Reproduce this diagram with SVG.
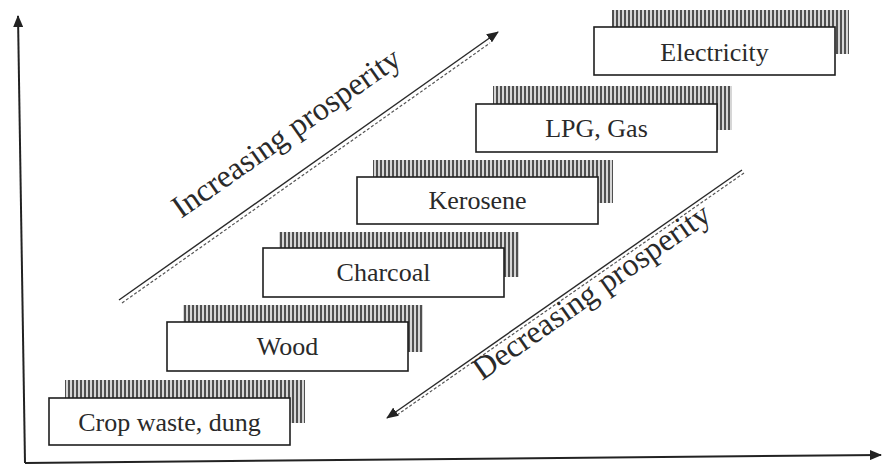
<svg xmlns="http://www.w3.org/2000/svg" width="882" height="470" viewBox="0 0 882 470">
<defs>
<pattern id="hatch" width="4" height="4" patternUnits="userSpaceOnUse">
<rect width="4" height="4" fill="#d6d6d6"/>
<rect width="2" height="4" fill="#505050"/>
</pattern>
<marker id="ah" viewBox="0 0 12 10" refX="11" refY="5" markerWidth="12" markerHeight="10" markerUnits="userSpaceOnUse" orient="auto">
<path d="M0,0 L12,5 L0,10 Z" fill="#222"/>
</marker>
</defs>
<style>
.box{fill:#fff;stroke:#1e1e1e;stroke-width:1.6}
.sh{fill:url(#hatch)}
.lbl{font-family:"Liberation Serif","Times New Roman",serif;font-size:26px;fill:#2a2a2a;text-anchor:middle}
.diag{font-family:"Liberation Serif","Times New Roman",serif;font-size:32px;fill:#2a2a2a}
.axis{stroke:#222;stroke-width:2;fill:none}
.sol{stroke:#2a2a2a;stroke-width:1.4;fill:none}
.dsh{stroke:#555;stroke-width:1.2;stroke-dasharray:3 2;fill:none}
</style>
<rect width="882" height="470" fill="#fff"/>
<g id="axes">
<line class="axis" x1="25" y1="463" x2="18" y2="16" marker-end="url(#ah)"/>
<line class="axis" x1="25" y1="463" x2="881" y2="455" marker-end="url(#ah)"/>
</g>
<g id="n1">
<rect class="sh" x="65" y="380" width="240" height="43"/>
<rect class="box" x="49" y="398" width="241" height="47"/>
<text class="lbl" x="169.5" y="431">Crop waste, dung</text>
</g>
<g id="n2">
<rect class="sh" x="183" y="305" width="240" height="47"/>
<rect class="box" x="167" y="322" width="241" height="49"/>
<text class="lbl" x="287.5" y="355">Wood</text>
</g>
<g id="n3">
<rect class="sh" x="279" y="232" width="240" height="45"/>
<rect class="box" x="263" y="248" width="241" height="49"/>
<text class="lbl" x="383.5" y="281">Charcoal</text>
</g>
<g id="n4">
<rect class="sh" x="373" y="160" width="240" height="43"/>
<rect class="box" x="357" y="177" width="241" height="47"/>
<text class="lbl" x="477.5" y="209">Kerosene</text>
</g>
<g id="n5">
<rect class="sh" x="493" y="86" width="239" height="44"/>
<rect class="box" x="476" y="104" width="241" height="48"/>
<text class="lbl" x="596.5" y="137">LPG, Gas</text>
</g>
<g id="n6">
<rect class="sh" x="612" y="10" width="237" height="44"/>
<rect class="box" x="594" y="27" width="241" height="48"/>
<text class="lbl" x="714.5" y="61">Electricity</text>
</g>
<g id="connectors">
<line class="dsh" x1="122" y1="303" x2="490" y2="43"/>
<line class="sol" x1="119" y1="300" x2="498" y2="32" marker-end="url(#ah)"/>
<line class="dsh" x1="744" y1="173" x2="397" y2="415"/>
<line class="sol" x1="742" y1="170" x2="387" y2="418" marker-end="url(#ah)"/>
</g>
<text class="diag" x="181" y="219" transform="rotate(-35 181 219)">Increasing prosperity</text>
<text class="diag" x="482" y="381" transform="rotate(-35 482 381)">Decreasing prosperity</text>
</svg>
